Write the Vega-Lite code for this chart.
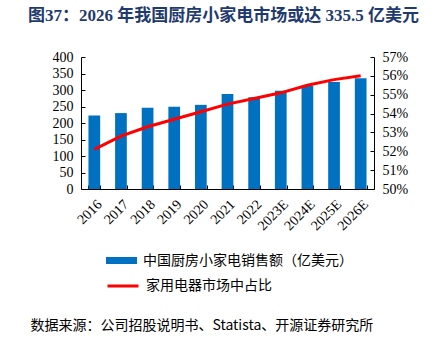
{
  "$schema": "https://vega.github.io/schema/vega-lite/v6.json",
  "width": 293,
  "height": 132,
  "autosize": {"type": "none"},
  "padding": {"left": 81, "top": 57, "right": 70, "bottom": 154},
  "background": "white",
  "title": {
    "text": "图37：2026 年我国厨房小家电市场或达 335.5 亿美元",
    "anchor": "start",
    "frame": "group",
    "dx": -53,
    "offset": 17,
    "baseline": "middle",
    "font": "Liberation Serif, Noto Sans CJK SC",
    "fontSize": 17,
    "fontWeight": "bold",
    "color": "#1F3A6E"
  },
  "config": {
    "view": {"stroke": null},
    "axis": {
      "labelFont": "Liberation Serif",
      "labelFontSize": 14,
      "labelColor": "#000000",
      "domainColor": "#000000",
      "tickColor": "#000000",
      "grid": false,
      "tickSize": -4
    },
    "legend": {
      "labelFont": "Noto Sans CJK SC",
      "labelFontSize": 14,
      "labelColor": "#000000",
      "labelLimit": 400
    }
  },
  "data": {
    "values": [
      {"year": "2016", "sales": 223, "share": 0.521},
      {"year": "2017", "sales": 230, "share": 0.528},
      {"year": "2018", "sales": 246, "share": 0.533},
      {"year": "2019", "sales": 249, "share": 0.537},
      {"year": "2020", "sales": 255, "share": 0.541},
      {"year": "2021", "sales": 288, "share": 0.545},
      {"year": "2022", "sales": 278, "share": 0.548},
      {"year": "2023E", "sales": 298, "share": 0.551},
      {"year": "2024E", "sales": 313, "share": 0.555},
      {"year": "2025E", "sales": 324, "share": 0.558},
      {"year": "2026E", "sales": 335.5, "share": 0.560}
    ]
  },
  "encoding": {
    "x": {
      "field": "year",
      "type": "ordinal",
      "sort": null,
      "scale": {"paddingInner": 0.56, "paddingOuter": 0.28},
      "axis": {
        "title": "数据来源：公司招股说明书、Statista、开源证券研究所",
        "titleFont": "Noto Sans CJK SC",
        "titleFontSize": 14,
        "titleFontWeight": "normal",
        "titleColor": "#000000",
        "titleAnchor": "start",
        "titleAlign": "left",
        "titleBaseline": "middle",
        "titleX": -51,
        "titleY": 136,
        "labelAngle": -45,
        "labelPadding": 12,
        "tickBand": "extent",
        "domainColor": "#000000"
      }
    }
  },
  "layer": [
    {
      "mark": {"type": "bar"},
      "encoding": {
        "y": {
          "field": "sales",
          "type": "quantitative",
          "scale": {"domain": [0, 400], "nice": false},
          "axis": {
            "title": null,
            "values": [0, 50, 100, 150, 200, 250, 300, 350, 400],
            "labelPadding": 12
          }
        },
        "fill": {
          "datum": "中国厨房小家电销售额（亿美元）",
          "type": "nominal",
          "scale": {"range": ["#0070C0"]},
          "legend": {
            "title": null,
            "orient": "none",
            "legendX": 25,
            "legendY": 188,
            "symbolType": "M-1,-0.226H1V0.226H-1Z",
            "symbolSize": 961,
            "symbolStrokeWidth": 0,
            "labelOffset": 6
          }
        }
      }
    },
    {
      "mark": {"type": "line", "strokeWidth": 3},
      "encoding": {
        "y": {
          "field": "share",
          "type": "quantitative",
          "scale": {"domain": [0.5, 0.57], "nice": false, "zero": false},
          "axis": {
            "title": null,
            "orient": "right",
            "format": ".0%",
            "values": [0.5, 0.51, 0.52, 0.53, 0.54, 0.55, 0.56, 0.57],
            "labelPadding": 12
          }
        },
        "stroke": {
          "datum": "家用电器市场中占比",
          "type": "nominal",
          "scale": {"range": ["#FF0000"]},
          "legend": {
            "title": null,
            "orient": "none",
            "legendX": 25,
            "legendY": 212,
            "symbolType": "stroke",
            "symbolSize": 961,
            "symbolStrokeWidth": 3,
            "labelOffset": 6
          }
        }
      }
    }
  ],
  "resolve": {"scale": {"y": "independent"}}
}
